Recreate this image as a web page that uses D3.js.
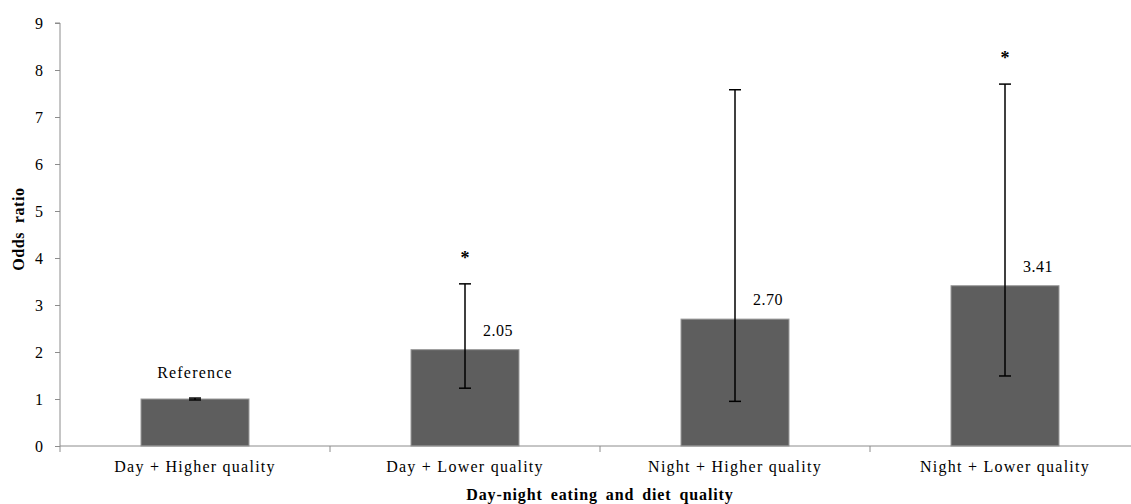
<!DOCTYPE html>
<html lang="en">
<head>
<meta charset="UTF-8">
<title>Odds ratio by day-night eating and diet quality</title>
<style>
    body { margin: 0; background: #fff; }
    svg text { font-family: "Liberation Serif", "Times New Roman", serif; fill: #000; }
    .axis path, .axis line { stroke: #8c8c8c; }
    .axis text { font-size: 16px; }
    .xaxis text { letter-spacing: 1.25px; }
</style>
</head>
<body>
<svg id="chart" width="1131" height="504"></svg>
<script src="https://d3js.org/d3.v7.min.js"></script>
<script>
    // chart values
    const categories = ["Day + Higher quality", "Day + Lower quality", "Night + Higher quality", "Night + Lower quality"];
    const oddsRatios = [1, 2.05, 2.70, 3.41];
    const ciLower = [0.98, 1.23, 0.95, 1.49];
    const ciUpper = [1.02, 3.45, 7.58, 7.70];
    const barLabels = ["Reference", "2.05", "2.70", "3.41"];
    const significant = [false, true, false, true];
    const yTicks = [0, 1, 2, 3, 4, 5, 6, 7, 8, 9];

    const svg = d3.select("#chart");
    const margin = { left: 60, right: -9, top: 23, bottom: 58 };
    const width = 1131, height = 504;

    const x = d3.scaleBand()
        .domain(categories)
        .range([margin.left, width - margin.right])
        .padding(0);

    const y = d3.scaleLinear()
        .domain([0, 9])
        .range([height - margin.bottom, margin.top]);

    const barW = x.bandwidth() * 0.4;
    const cx = d => x(d) + x.bandwidth() / 2;

    // y axis
    const yAxis = svg.append("g")
        .attr("class", "axis")
        .attr("transform", `translate(${margin.left},0)`)
        .call(d3.axisLeft(y).tickValues(yTicks).tickSize(5).tickPadding(12).tickFormat(d3.format("d")));
    yAxis.select(".domain").attr("d", `M-5,${y(9)}H0V${y(0)}`);

    // bars
    svg.selectAll("rect.bar")
        .data(categories)
        .enter().append("rect")
        .attr("class", "bar")
        .attr("x", d => cx(d) - barW / 2)
        .attr("width", barW)
        .attr("y", (d, i) => y(oddsRatios[i]))
        .attr("height", (d, i) => y(0) - y(oddsRatios[i]))
        .attr("fill", "#5e5e5e")
        .attr("stroke", "#9a9a9a")
        .attr("stroke-width", 1);

    // x axis (drawn after bars so the baseline sits on top)
    const xAxis = svg.append("g")
        .attr("class", "axis xaxis")
        .attr("transform", `translate(0,${y(0)})`)
        .call(d3.axisBottom(x).tickSize(0).tickPadding(15));
    xAxis.select(".domain").attr("d", `M${margin.left},0H${width}`);
    // category boundary ticks
    xAxis.selectAll("line.sep")
        .data(categories.slice(1).map(c => x(c)).concat([margin.left]))
        .enter().append("line")
        .attr("class", "sep")
        .attr("x1", d => d).attr("x2", d => d)
        .attr("y1", 0).attr("y2", 6);

    // error bars
    const err = svg.append("g").attr("stroke", "#000").attr("stroke-width", 1.5);
    categories.forEach((c, i) => {
        const xc = cx(c);
        err.append("line").attr("x1", xc).attr("x2", xc).attr("y1", y(ciLower[i])).attr("y2", y(ciUpper[i]));
        err.append("line").attr("x1", xc - 6).attr("x2", xc + 6).attr("y1", y(ciLower[i])).attr("y2", y(ciLower[i]));
        err.append("line").attr("x1", xc - 6).attr("x2", xc + 6).attr("y1", y(ciUpper[i])).attr("y2", y(ciUpper[i]));
    });

    // value labels
    svg.selectAll("text.val")
        .data(categories)
        .enter().append("text")
        .attr("class", "val")
        .attr("x", (d, i) => i === 0 ? cx(d) : cx(d) + 18)
        .attr("y", (d, i) => i === 0 ? y(oddsRatios[i]) - 21 : y(oddsRatios[i]) - 14)
        .attr("text-anchor", (d, i) => i === 0 ? "middle" : "start")
        .style("font-size", "16px")
        .style("letter-spacing", (d, i) => i === 0 ? "1.2px" : "0.5px")
        .text((d, i) => barLabels[i]);

    // significance stars
    svg.selectAll("text.star")
        .data(categories.filter((d, i) => significant[i]))
        .enter().append("text")
        .attr("class", "star")
        .attr("x", d => cx(d))
        .attr("y", d => y(ciUpper[categories.indexOf(d)]) - 20)
        .attr("text-anchor", "middle")
        .style("font-size", "18px")
        .style("font-weight", "bold")
        .text("*");

    // axis titles
    svg.append("text")
        .attr("transform", "translate(24,229) rotate(-90)")
        .attr("text-anchor", "middle")
        .style("font-size", "16px")
        .style("font-weight", "bold")
        .style("letter-spacing", "0.6px")
        .style("word-spacing", "4px")
        .text("Odds ratio");

    svg.append("text")
        .attr("x", 600)
        .attr("y", 500)
        .attr("text-anchor", "middle")
        .style("font-size", "16px")
        .style("font-weight", "bold")
        .style("letter-spacing", "0.9px")
        .style("word-spacing", "3px")
        .text("Day-night eating and diet quality");
</script>
</body>
</html>
